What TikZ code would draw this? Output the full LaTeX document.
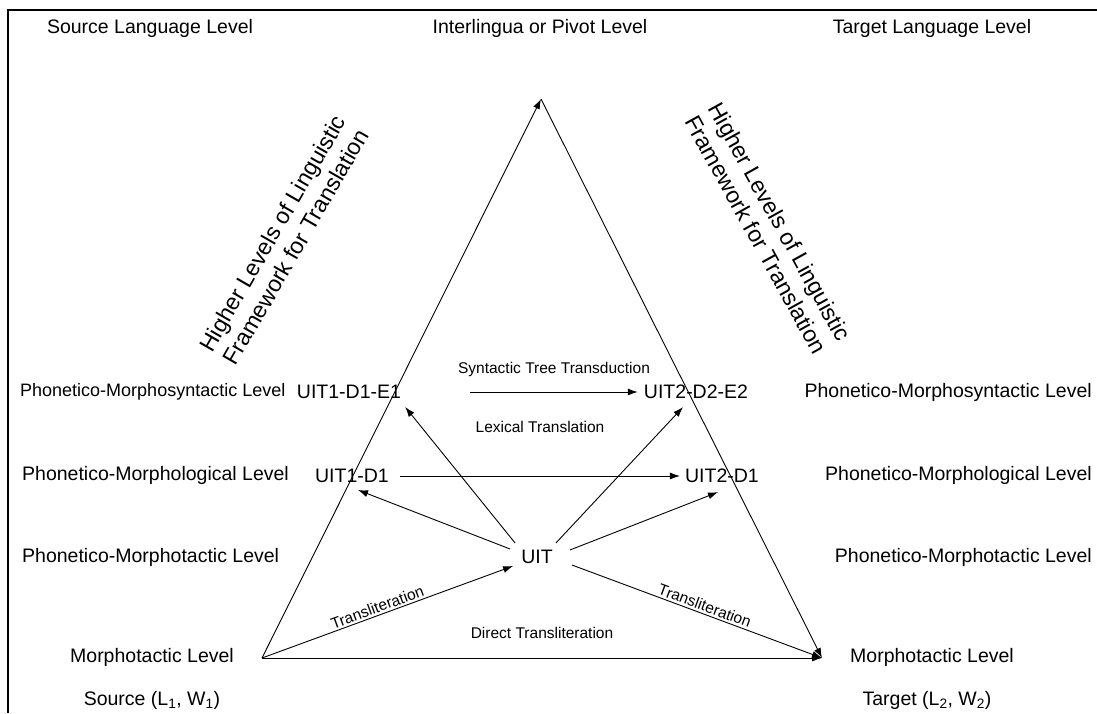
\documentclass[tikz,border=0pt]{standalone}
\usepackage{fontspec}
\setmainfont{Liberation Sans}
\usetikzlibrary{arrows.meta,calc}
\begin{document}
\begin{tikzpicture}[x=1pt,y=-1pt,
  big/.style={font=\fontsize{19.5}{23}\selectfont, inner sep=2pt},
  rot/.style={font=\fontsize{23}{27}\selectfont, inner sep=2pt, align=center},
  sml/.style={font=\fontsize{15.5}{18}\selectfont, inner sep=2pt},
  arr/.style={-{Latex[length=10pt,width=7pt]}, line width=0.9pt},
  frame/.style={line width=2.4pt}]
\useasboundingbox (0,0) rectangle (1097,713);
% frame
\coordinate (fTL) at (8,10);
\coordinate (fTR) at (1097,10);
\coordinate (fBL) at (8,713);
\draw[frame] (fTR) -- (fTL) -- (fBL);
% headers
\node[big] (hsrc) at (150,28) {Source Language Level};
\node[big] (hpiv) at (540,28) {Interlingua or Pivot Level};
\node[big] (htgt) at (932,28) {Target Language Level};
% rotated labels
\node[rot, rotate=60] (hl) at (284,240) {Higher Levels of Linguistic\\Framework for Translation};
\node[rot, rotate=-61] (hr) at (768,228) {Higher Levels of Linguistic\\Framework for Translation};
% level labels
\node[big, font=\fontsize{18}{22}\selectfont, anchor=west] (l1) at (18,392) {Phonetico-Morphosyntactic Level};
\node[big, anchor=west] (l2) at (20,475) {Phonetico-Morphological Level};
\node[big, anchor=west] (l3) at (20,557) {Phonetico-Morphotactic Level};
\node[big] (l4) at (152,657) {Morphotactic Level};
\node[big] (l5) at (152,700) {Source (L\textsubscript{1}, W\textsubscript{1})};
\node[big, anchor=east] (r1) at (1094,392) {Phonetico-Morphosyntactic Level};
\node[big, anchor=east] (r2) at (1094,475) {Phonetico-Morphological Level};
\node[big, anchor=east] (r3) at (1094,557) {Phonetico-Morphotactic Level};
\node[big] (r4) at (932,657) {Morphotactic Level};
\node[big] (r5) at (927,700) {Target (L\textsubscript{2}, W\textsubscript{2})};
% representation nodes
\node[big] (e1) at (349,392) {UIT1-D1-E1};
\node[big] (e2) at (696,392) {UIT2-D2-E2};
\node[big] (d1) at (352,476) {UIT1-D1};
\node[big] (d2) at (722,476) {UIT2-D1};
\node[big] (uit) at (537,557) {UIT};
% triangle vertices
\coordinate (A) at (541,99);
\coordinate (L) at (262,658);
\coordinate (R) at (822,658);
% triangle
\draw[arr] (L) -- (A);
\draw[arr] (A) -- (R);
\draw[arr] (L) -- node[sml, above=17pt] (dt) {Direct Transliteration} (R);
% horizontal transfers
\draw[arr] ($(e1.east)+(67,0)$) -- node[sml, above=13pt] (stt) {Syntactic Tree Transduction} ($(e2.west)+(-4,0)$);
\draw[arr] ($(d1.east)+(9,0)$) -- node[sml, above=41pt] (lt) {Lexical Translation} ($(d2.west)+(-3,0)$);
% from UIT
\draw[arr] ($(uit.north west)+(-4,-5)$) -- ($(e1.south east)+(2,6)$);
\draw[arr] ($(uit.west)+(-9,-8)$) -- ($(d1.south)+(6,5)$);
\draw[arr] ($(uit.north east)+(1,-5)$) -- ($(e2.south)+(-13,6)$);
\draw[arr] ($(uit.east)+(15,-7)$) -- ($(d2.south)+(-4,7)$);
\draw[arr] ($(uit.east)+(17,8)$) -- node[sml, sloped, above, pos=0.52] (tr2) {Transliteration} (R);
\draw[arr] (L) -- node[sml, sloped, above, pos=0.47] (tr1) {Transliteration} ($(uit.west)+(-6,9)$);
\end{tikzpicture}
\end{document}
